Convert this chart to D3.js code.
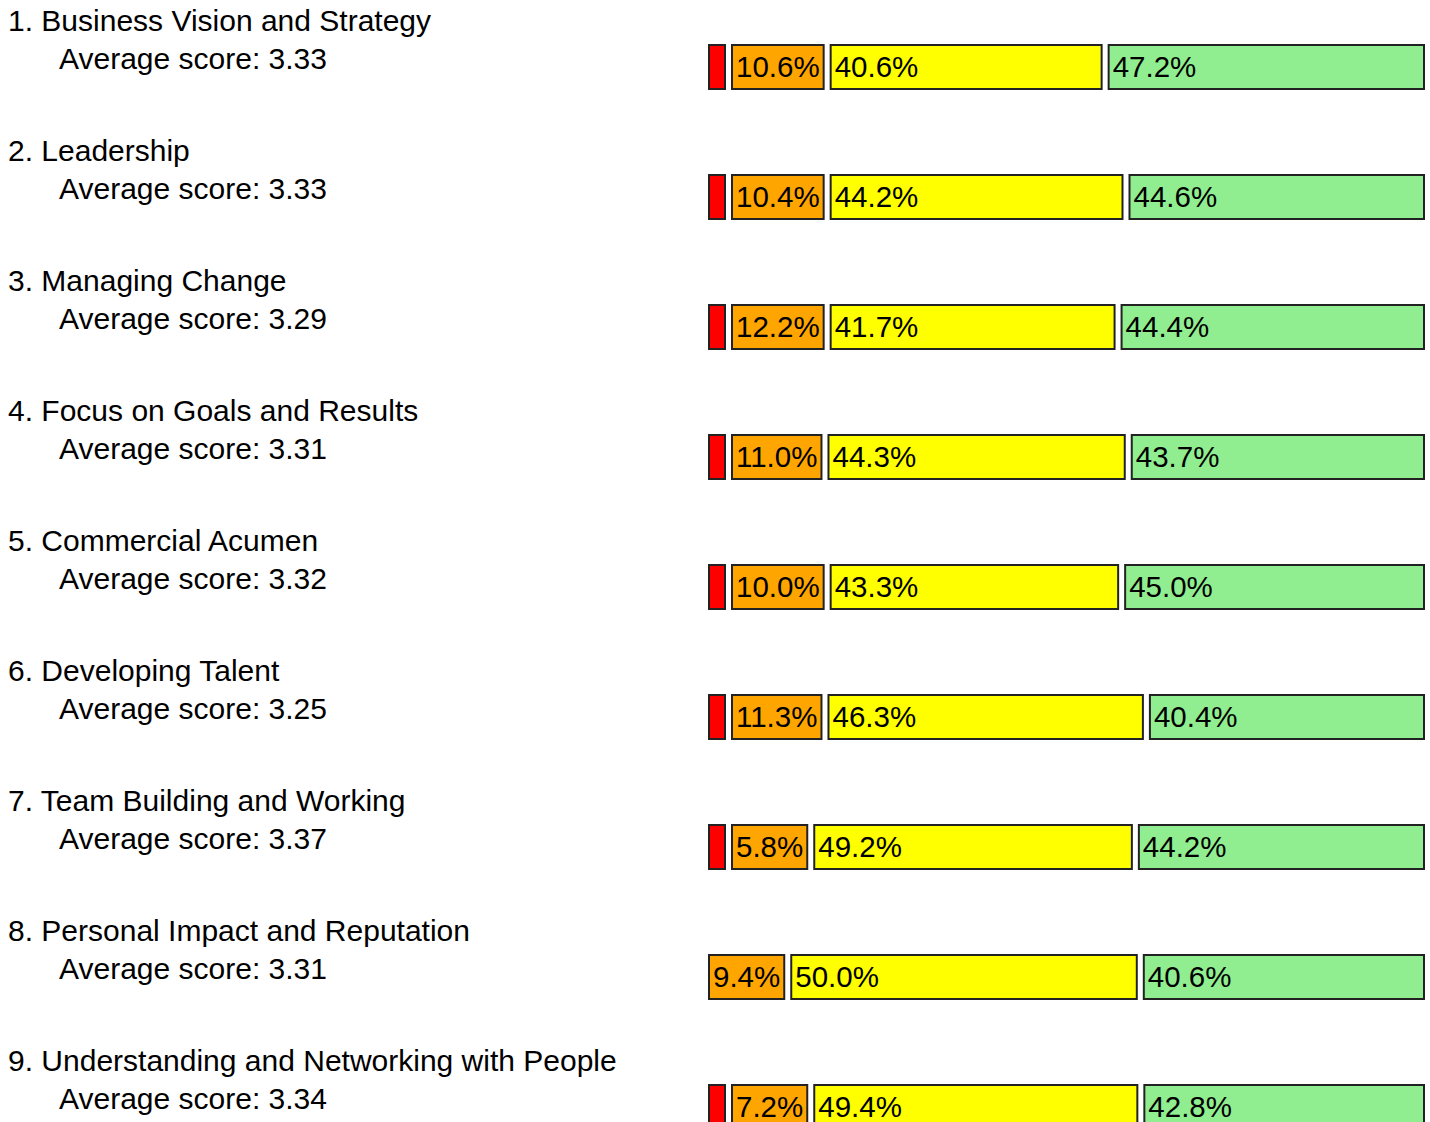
<!DOCTYPE html>
<head>
  <meta charset="utf-8">
  <script src="https://d3js.org/d3.v7.min.js"></script>
  <style>
    body { margin: 0; background: #fff; }
    text { font-family: "Liberation Sans", Arial, sans-serif; font-size: 30px; fill: #000; }
    text.pct { font-size: 29.5px; }
    .seg { stroke: #222; stroke-width: 2; }
  </style>
</head>
<body>
<div id="chart"></div>
<script>
// competency names and average scores
var names = [
  "1. Business Vision and Strategy",
  "2. Leadership",
  "3. Managing Change",
  "4. Focus on Goals and Results",
  "5. Commercial Acumen",
  "6. Developing Talent",
  "7. Team Building and Working",
  "8. Personal Impact and Reputation",
  "9. Understanding and Networking with People"
];
var averages = [3.33, 3.33, 3.29, 3.31, 3.32, 3.25, 3.37, 3.31, 3.34];

// share of answers per rating (percent)
var redPct    = [1.6, 0.8, 1.7, 1.0, 1.7, 2.0, 0.8, 0.0, 0.6];
var orangePct = [10.6, 10.4, 12.2, 11.0, 10.0, 11.3, 5.8, 9.4, 7.2];
var yellowPct = [40.6, 44.2, 41.7, 44.3, 43.3, 46.3, 49.2, 50.0, 49.4];
var greenPct  = [47.2, 44.6, 44.4, 43.7, 45.0, 40.4, 44.2, 40.6, 42.8];

var colors = ["#ff0000", "#ffa500", "#ffff00", "#90ee90"];
var labelled = [false, true, true, true];

var width = 1430, height = 1122;
var rowStep = 130, barLeft = 708, barRight = 1425, barTop = 44, barH = 46, gap = 5;

var svg = d3.select("#chart").append("svg")
    .attr("width", width)
    .attr("height", height);

// scratch text to measure label widths
var probe = svg.append("text").attr("class", "pct").attr("x", -1000).attr("y", -1000);
function textW(s) { probe.text(s); return probe.node().getComputedTextLength(); }

names.forEach(function(name, i) {
  var g = svg.append("g").attr("transform", "translate(0," + (i * rowStep) + ")");

  g.append("text").attr("x", 8).attr("y", 31).text(name);
  g.append("text").attr("x", 59).attr("y", 69).text("Average score: " + averages[i].toFixed(2));

  var vals = [redPct[i], orangePct[i], yellowPct[i], greenPct[i]];
  var segs = [];
  vals.forEach(function(v, k) {
    if (v <= 0) return;
    var lab = labelled[k] ? v.toFixed(1) + "%" : "";
    segs.push({ v: v, k: k, label: lab, minW: lab ? textW(lab) + 10 : 18, fixed: false });
  });

  // segments too narrow for their label keep their minimum width, the rest share what is left
  var avail = (barRight - barLeft) - gap * (segs.length - 1);
  var x, changed = true;
  while (changed) {
    changed = false;
    var flexSum = d3.sum(segs.filter(function(s) { return !s.fixed; }), function(s) { return s.v; });
    var flexW = avail - d3.sum(segs.filter(function(s) { return s.fixed; }), function(s) { return s.minW; });
    x = d3.scaleLinear().domain([0, flexSum]).range([0, flexW]);
    segs.forEach(function(s) {
      if (!s.fixed && x(s.v) < s.minW) { s.fixed = true; changed = true; }
    });
  }
  var pos = barLeft;
  segs.forEach(function(s) {
    s.w = s.fixed ? s.minW : x(s.v);
    s.x0 = pos;
    pos += s.w + gap;
  });

  var seg = g.selectAll(".segG").data(segs).enter().append("g");
  seg.append("rect")
      .attr("class", "seg")
      .attr("x", function(d) { return d.x0 + 1; })
      .attr("y", barTop + 1)
      .attr("width", function(d) { return d.w - 2; })
      .attr("height", barH - 2)
      .style("fill", function(d) { return colors[d.k]; });
  seg.append("text")
      .attr("class", "pct")
      .attr("x", function(d) { return d.x0 + 5; })
      .attr("y", barTop + 33)
      .text(function(d) { return d.label; });
});

probe.remove();
</script>
</body>
